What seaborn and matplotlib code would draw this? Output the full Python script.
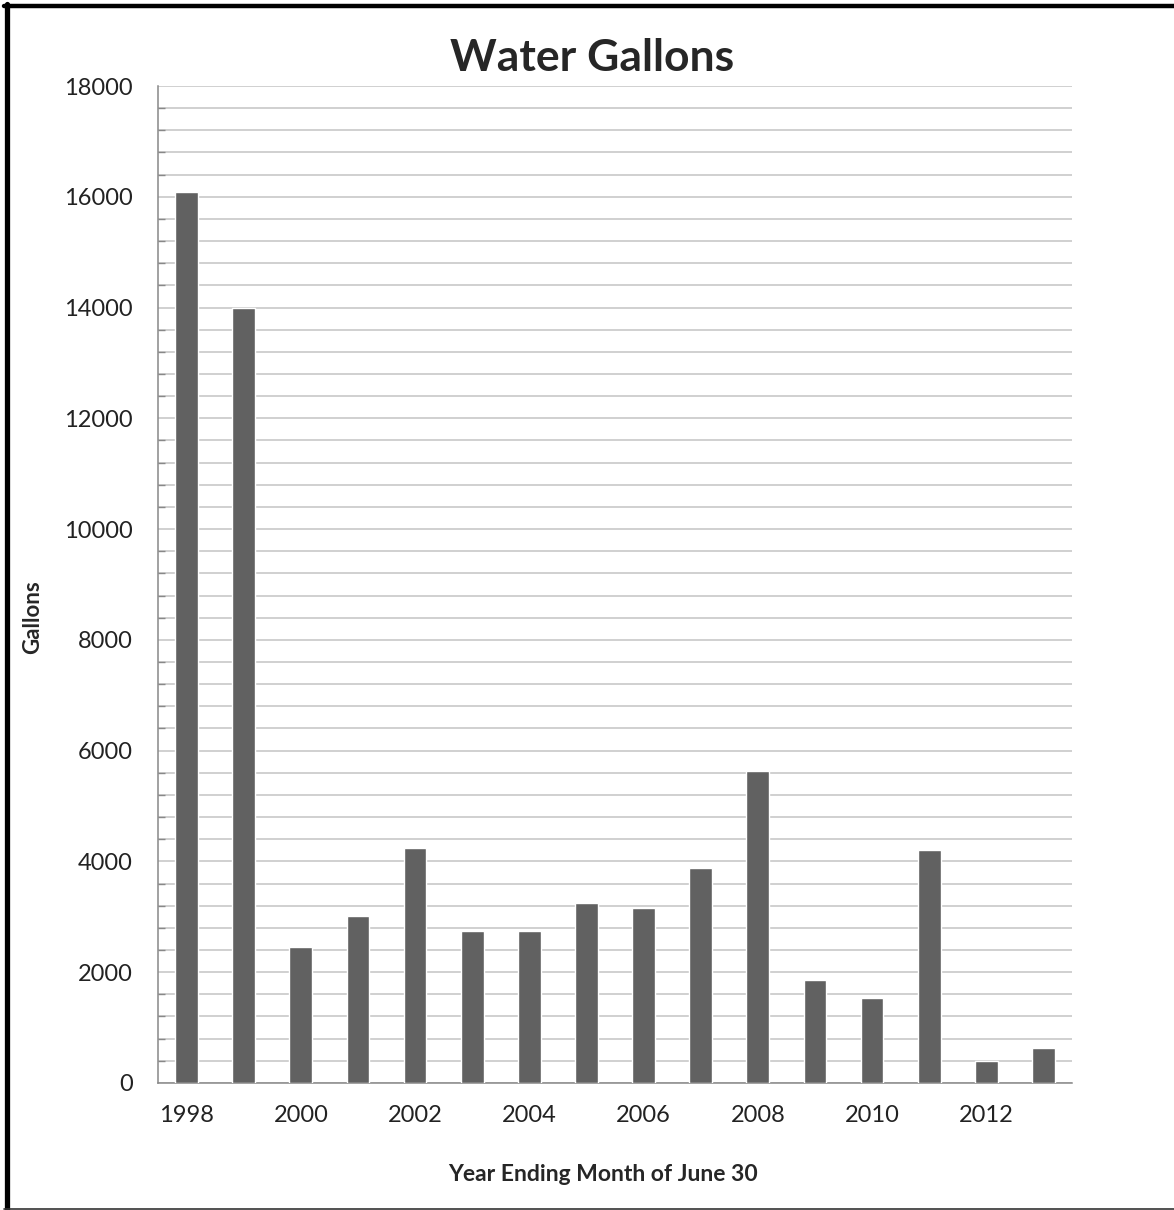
import matplotlib
matplotlib.use("Agg")
import matplotlib.pyplot as plt
import seaborn as sns
from matplotlib.lines import Line2D
from matplotlib.ticker import MultipleLocator

years = ["1998", "1999", "2000", "2001", "2002", "2003", "2004", "2005",
         "2006", "2007", "2008", "2009", "2010", "2011", "2012", "2013"]
gallons = [16080, 14000, 2460, 3020, 4250, 2740, 2740, 3250,
           3150, 3880, 5630, 1860, 1540, 4200, 390, 640]
shown_labels = ["1998", "2000", "2002", "2004", "2006", "2008", "2010", "2012"]

sns.set_style("white")
plt.rcParams["font.family"] = ["Lato", "DejaVu Sans"]

fig = plt.figure(figsize=(11.74, 12.10), dpi=100)
ax = fig.add_axes([0.1346, 0.1050, 0.7785, 0.8239])

sns.barplot(x=years, y=gallons, color="#616161", saturation=1, width=0.4,
            ax=ax, zorder=3)

grid_c = "#c4c4c4"
ax.set_ylim(0, 18000)
ax.set_xlim(-0.5, len(years) - 0.5)
ax.yaxis.set_major_locator(MultipleLocator(2000))
ax.yaxis.set_minor_locator(MultipleLocator(400))
ax.grid(axis="y", which="both", color=grid_c, lw=1.1, zorder=0)
ax.set_axisbelow(True)

# x: tick marks at category boundaries, labels every other year at centers
ax.set_xticks([i - 0.5 for i in range(len(years) + 1)])
ax.set_xticklabels([])
centers = [years.index(y) for y in shown_labels]
ax.set_xticks(centers, shown_labels, minor=True)
ax.tick_params(axis="x", which="major", direction="out", length=7,
               width=1, color="#888888")
ax.tick_params(axis="x", which="minor", length=0, pad=16,
               labelsize=17, labelcolor="#222222")

ax.tick_params(axis="y", which="major", direction="out", length=6,
               width=1, color="#888888", labelsize=17, labelcolor="#222222",
               pad=12)
ax.tick_params(axis="y", which="minor", direction="in", length=5,
               width=1, color="#888888", left=True)
ax.set_yticks(range(0, 18001, 2000))

for s in ["top", "right"]:
    ax.spines[s].set_visible(False)
for s in ["left", "bottom"]:
    ax.spines[s].set_color("#888888")
    ax.spines[s].set_linewidth(1.1)

ax.set_xlabel("Year Ending Month of June 30", fontsize=16.5, fontweight="bold")
ax.set_ylabel("Gallons", fontsize=16, fontweight="bold")
ax.xaxis.set_label_coords(0.487, -0.081)
ax.yaxis.set_label_coords(-0.126, 0.467)

fig.text(0.504, 0.952, "Water Gallons", ha="center", va="center",
         fontsize=32, fontweight="bold")

# outer frame like the screenshot
fig.add_artist(Line2D([6.5 / 1174, 6.5 / 1174], [0, 1 - 4 / 1210],
                      transform=fig.transFigure, color="black", lw=3.8))
fig.add_artist(Line2D([4 / 1174, 1], [1 - 6 / 1210, 1 - 6 / 1210],
                      transform=fig.transFigure, color="black", lw=3.2))
fig.add_artist(Line2D([4 / 1174, 1], [1.5 / 1210, 1.5 / 1210],
                      transform=fig.transFigure, color="#333333", lw=1.2))

fig.savefig("out.png", dpi=100, facecolor="white")
